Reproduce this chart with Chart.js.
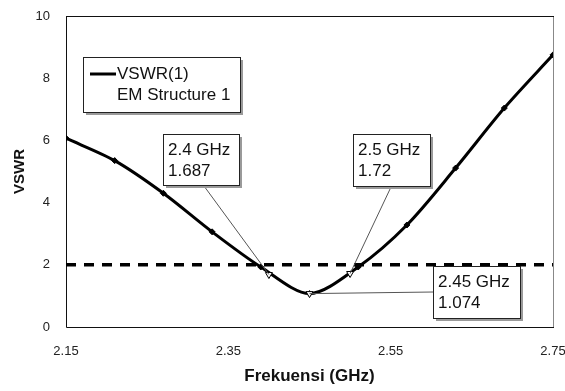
<!DOCTYPE html>
<html>
<head>
<meta charset="utf-8">
<script src="https://cdn.jsdelivr.net/npm/chart.js@4.4.1/dist/chart.umd.min.js"></script>
<style>
  html, body { margin: 0; padding: 0; background: #fff; }
  #wrap { width: 565px; height: 391px; }
</style>
</head>
<body>
<div id="wrap"><canvas id="chart" width="565" height="391"></canvas></div>
<script>
// VSWR vs frequency
const freq = [2.15, 2.21, 2.27, 2.33, 2.39, 2.45, 2.51, 2.57, 2.63, 2.69, 2.75];
const vswr = [6.07, 5.35, 4.3, 3.06, 1.93, 1.074, 1.93, 3.28, 5.11, 7.04, 8.75];
// marker readouts
const markFreq = [2.4, 2.45, 2.5];
const markVswr = [1.687, 1.074, 1.72];
const markText = ['1.687', '1.074', '1.72'];
const limitValue = 2;
const xTicks = [2.15, 2.35, 2.55, 2.75];
const yTicks = [0, 2, 4, 6, 8, 10];
const seriesName = 'VSWR(1)';
const seriesSub = 'EM Structure 1';

const FONT = '"Liberation Sans", Arial, sans-serif';

function drawBox(ctx, r) {
  ctx.fillStyle = '#9a9a9a';
  ctx.fillRect(r[0] + 3, r[1] + 3, r[2], r[3]);
  ctx.fillStyle = '#fff';
  ctx.fillRect(r[0], r[1], r[2], r[3]);
  ctx.strokeStyle = '#222';
  ctx.lineWidth = 1;
  ctx.strokeRect(r[0] + 0.5, r[1] + 0.5, r[2], r[3]);
}

// plot frame, drawn under the data
const framePlugin = {
  id: 'frame',
  beforeDatasetsDraw(chart) {
    const { ctx, chartArea: a } = chart;
    ctx.save();
    ctx.lineWidth = 1;
    ctx.strokeStyle = '#888';
    ctx.beginPath();
    ctx.moveTo(a.right + 0.5, a.top);
    ctx.lineTo(a.right + 0.5, a.bottom);
    ctx.stroke();
    ctx.strokeStyle = '#111';
    ctx.beginPath();
    ctx.moveTo(a.left, a.top + 0.5);
    ctx.lineTo(a.right + 1, a.top + 0.5);
    ctx.moveTo(a.left + 0.5, a.top);
    ctx.lineTo(a.left + 0.5, a.bottom + 0.5);
    ctx.lineTo(a.right + 1, a.bottom + 0.5);
    ctx.stroke();
    ctx.restore();
  }
};

// legend and marker readout boxes
const boxPlugin = {
  id: 'boxes',
  afterDatasetsDraw(chart, args, opts) {
    const { ctx, scales: { x, y } } = chart;
    ctx.save();
    ctx.font = '17px ' + FONT;
    ctx.textBaseline = 'middle';

    // legend
    const L = opts.legend;
    drawBox(ctx, L.rect);
    ctx.strokeStyle = '#000';
    ctx.lineWidth = 3;
    ctx.beginPath();
    ctx.moveTo(L.rect[0] + 7, L.rect[1] + 17);
    ctx.lineTo(L.rect[0] + 33, L.rect[1] + 17);
    ctx.stroke();
    ctx.fillStyle = '#111';
    ctx.fillText(seriesName, L.rect[0] + 34, L.rect[1] + 17);
    ctx.fillText(seriesSub, L.rect[0] + 34, L.rect[1] + 38);

    // readouts
    opts.marks.forEach((m, i) => {
      const px = x.getPixelForValue(markFreq[i]);
      const py = y.getPixelForValue(markVswr[i]);
      ctx.strokeStyle = '#555';
      ctx.lineWidth = 1;
      ctx.beginPath();
      ctx.moveTo(m.attach[0], m.attach[1]);
      ctx.lineTo(px, py);
      ctx.stroke();
      drawBox(ctx, m.rect);
      ctx.fillStyle = '#111';
      ctx.fillText(markFreq[i] + ' GHz', m.rect[0] + 5, m.rect[1] + 16);
      ctx.fillText(markText[i], m.rect[0] + 5, m.rect[1] + 37);
    });
    ctx.restore();
  }
};

new Chart(document.getElementById('chart'), {
  type: 'line',
  data: {
    datasets: [
      {
        label: seriesName,
        data: freq.map((f, i) => ({ x: f, y: vswr[i] })),
        borderColor: '#000',
        borderWidth: 3,
        tension: 0.3,
        pointStyle: 'rectRot',
        pointRadius: 3,
        pointBackgroundColor: '#000',
        pointBorderColor: '#000',
        pointBorderWidth: 1,
        order: 1
      },
      {
        label: 'markers',
        data: markFreq.map((f, i) => ({ x: f, y: markVswr[i] })),
        showLine: false,
        pointStyle: 'triangle',
        rotation: 180,
        pointRadius: 4,
        pointBackgroundColor: '#fff',
        pointBorderColor: '#000',
        pointBorderWidth: 1,
        order: 0
      },
      {
        label: 'limit',
        data: [
          { x: xTicks[0], y: limitValue },
          { x: xTicks[xTicks.length - 1], y: limitValue }
        ],
        borderColor: '#000',
        borderWidth: 3.5,
        borderDash: [10, 8],
        pointRadius: 0,
        order: 2
      }
    ]
  },
  options: {
    responsive: false,
    animation: false,
    layout: { padding: { top: 16, right: 12, left: 0, bottom: 0 } },
    plugins: {
      legend: { display: false },
      tooltip: { enabled: false },
      boxes: {
        legend: { rect: [83, 57, 157, 55] },
        marks: [
          { rect: [163, 134, 76, 51], attach: [204, 186] },
          { rect: [433, 266, 87, 52], attach: [433, 292] },
          { rect: [353, 134, 77, 52], attach: [391, 187] }
        ]
      }
    },
    scales: {
      x: {
        type: 'linear',
        min: xTicks[0],
        max: xTicks[xTicks.length - 1],
        afterBuildTicks: s => { s.ticks = xTicks.map(v => ({ value: v })); },
        afterFit: s => { s.height = 64; s.paddingLeft = 0; s.paddingRight = 0; },
        grid: { display: false, drawTicks: false },
        border: { display: false },
        ticks: {
          padding: 17,
          color: '#222',
          maxRotation: 0,
          autoSkip: false,
          font: { family: FONT, size: 13 },
          callback: v => v.toFixed(2)
        },
        title: {
          display: true,
          text: 'Frekuensi (GHz)',
          color: '#111',
          font: { family: FONT, size: 17, weight: 'bold' },
          padding: { top: 0, bottom: 4 }
        }
      },
      y: {
        min: yTicks[0],
        max: yTicks[yTicks.length - 1],
        afterBuildTicks: s => { s.ticks = yTicks.map(v => ({ value: v })); },
        afterFit: s => { s.width = 66; s.paddingTop = 0; s.paddingBottom = 0; },
        grid: { display: false, drawTicks: false },
        border: { display: false },
        ticks: {
          padding: 16,
          color: '#222',
          font: { family: FONT, size: 13 }
        },
        title: {
          display: true,
          text: 'VSWR',
          color: '#111',
          font: { family: FONT, size: 15, weight: 'bold' },
          padding: { top: 11, bottom: 0 }
        }
      }
    }
  },
  plugins: [framePlugin, boxPlugin]
});
</script>
</body>
</html>
